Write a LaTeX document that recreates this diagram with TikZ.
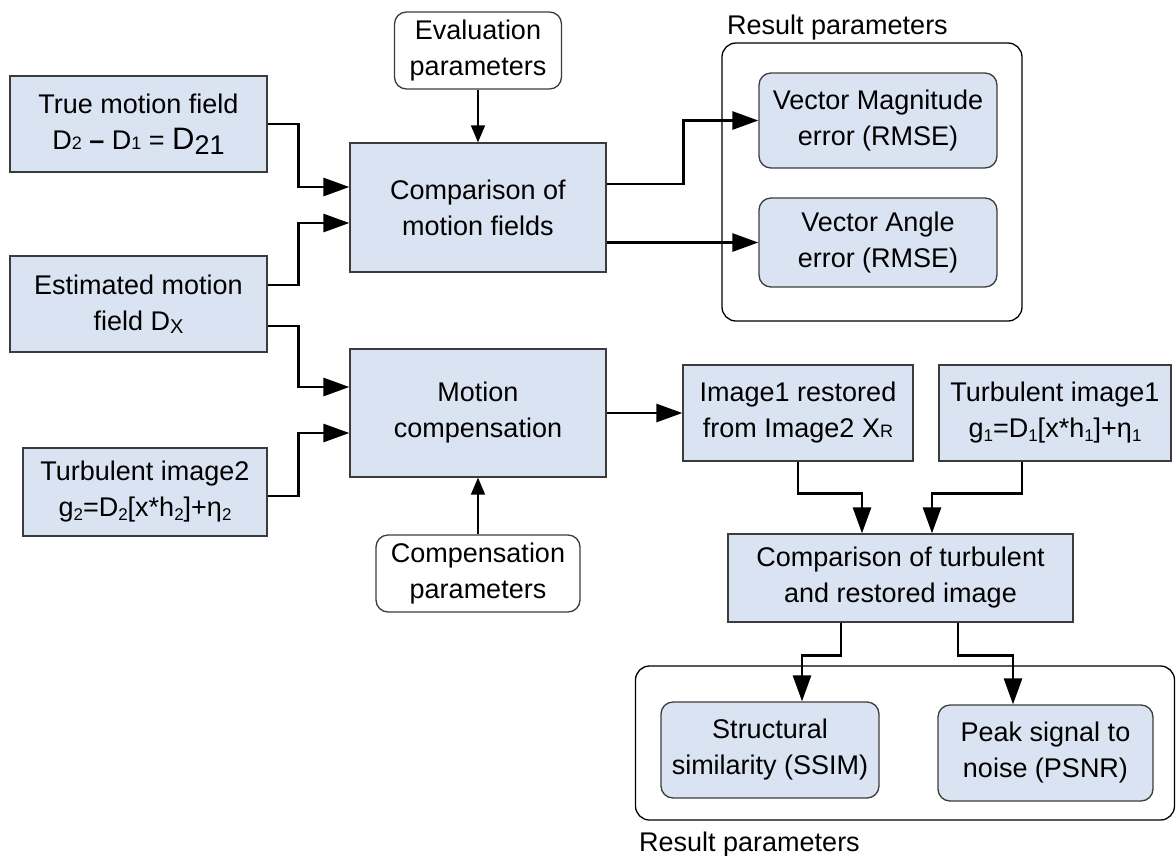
\documentclass[tikz,border=0pt]{standalone}
\usepackage{fontspec}
\setmainfont{Liberation Sans}
\usetikzlibrary{arrows.meta}
\definecolor{boxfill}{RGB}{218,227,242}
\definecolor{boxline}{RGB}{60,60,60}
% small index set lower than the baseline, and one sitting on it
\newcommand{\lowsub}[1]{\raisebox{-4pt}{\fontsize{17}{17}\selectfont #1}}
\newcommand{\basesub}[1]{{\fontsize{18}{18}\selectfont #1}}
\begin{document}
\begin{tikzpicture}[x=1pt, y=-1pt,
  font=\fontsize{27}{36}\selectfont,
  box/.style={draw=boxline, fill=boxfill, line width=1.3pt, align=center, inner sep=0pt},
  rbox/.style={box, rounded corners=12pt},
  param/.style={draw=boxline, fill=white, line width=1.3pt, rounded corners=12pt, align=center, inner sep=0pt},
  group/.style={draw=black, line width=1.3pt, rounded corners=14pt, inner sep=0pt},
  grouplabel/.style={anchor=base west, inner sep=0pt},
  conn/.style={line width=2.8pt, -{Triangle[length=26pt,width=18pt]}},
  feed/.style={line width=1.6pt, -{Triangle[length=17pt,width=14pt]}}]
\useasboundingbox (0,0) rectangle (1176,855);

% result groups
\node[group, minimum width=300pt, minimum height=278pt] (res1) at (872,182) {};
\node[grouplabel] (res1lbl) at (727,34) {Result parameters};
\node[group, minimum width=539pt, minimum height=154pt] (res2) at (905,743) {};
\node[grouplabel] (res2lbl) at (639,851) {Result parameters};

% inputs
\node[box, minimum width=257pt, minimum height=96pt] (tmf) at (138.5,124)
  {True motion field\\ D\basesub{2} \textbf{--} D\basesub{1} = {\fontsize{31}{31}\selectfont D}\raisebox{-5pt}{21}};
\node[box, minimum width=257pt, minimum height=96pt] (emf) at (138.5,304)
  {Estimated motion\\ field D\raisebox{-3pt}{\fontsize{20}{20}\selectfont X}};
\node[box, minimum width=244pt, minimum height=88pt] (ti2) at (145,492)
  {Turbulent image2\\ g\lowsub{2}=D\lowsub{2}[x*h\lowsub{2}]+η\lowsub{2}};

% parameter boxes
\node[param, minimum width=167pt, minimum height=77pt] (eval) at (478,50.5) {Evaluation\\ parameters};
\node[param, minimum width=204pt, minimum height=77pt] (comp) at (478,573.5) {Compensation\\ parameters};

% processing
\node[box, minimum width=256pt, minimum height=129pt] (cmf) at (478,207.5) {Comparison of\\ motion fields};
\node[box, minimum width=256pt, minimum height=128pt] (mc) at (478,413) {Motion\\ compensation};
\node[box, minimum width=230pt, minimum height=96pt] (ir) at (798,413)
  {Image1 restored\\ from Image2 X\basesub{R}};
\node[box, minimum width=232pt, minimum height=96pt] (ti1) at (1055,413)
  {Turbulent image1\\ g\lowsub{1}=D\lowsub{1}[x*h\lowsub{1}]+η\lowsub{1}};
\node[box, minimum width=345pt, minimum height=88pt] (ctr) at (900.5,578)
  {Comparison of turbulent\\ and restored image};

% results
\node[rbox, minimum width=238pt, minimum height=95pt] (vmag) at (878,120.5) {Vector Magnitude\\ error (RMSE)};
\node[rbox, minimum width=238pt, minimum height=89pt] (vang) at (878,242.5) {Vector Angle\\ error (RMSE)};
\node[rbox, minimum width=218pt, minimum height=96pt] (ssim) at (770,750) {Structural\\ similarity (SSIM)};
\node[rbox, minimum width=215pt, minimum height=96pt] (psnr) at (1045.5,753) {Peak signal to\\ noise (PSNR)};

% connectors
\draw[conn] (tmf.east) -- ++(31,0) |- ([yshift=20.5pt]cmf.west);
\draw[conn] ([yshift=19pt]emf.east) -- ++(31,0) |- ([yshift=-15.5pt]cmf.west);
\draw[conn] ([yshift=-22pt]emf.east) -- ++(31,0) |- ([yshift=26pt]mc.west);
\draw[conn] ([yshift=-4pt]ti2.east) -- ++(31,0) |- ([yshift=-20pt]mc.west);
\draw[feed] (eval.south) -- (cmf.north);
\draw[feed] (comp.north) -- (mc.south);
\draw[conn] ([yshift=23.5pt]cmf.east) -- ++(77,0) |- (vmag.west);
\draw[conn] ([yshift=-35pt]cmf.east) -- (vang.west);
\draw[conn] (mc.east) -- (ir.west);
\draw[conn] (ir.south) -- ++(0,32) -| ([xshift=-38.5pt]ctr.north);
\draw[conn] ([xshift=-33pt]ti1.south) -- ++(0,32) -| ([xshift=31.5pt]ctr.north);
\draw[conn] ([xshift=-59.5pt]ctr.south) -- ++(0,33) -| ([xshift=32pt]ssim.north);
\draw[conn] ([xshift=57.5pt]ctr.south) -- ++(0,33) -| ([xshift=-32.5pt]psnr.north);
\end{tikzpicture}
\end{document}
